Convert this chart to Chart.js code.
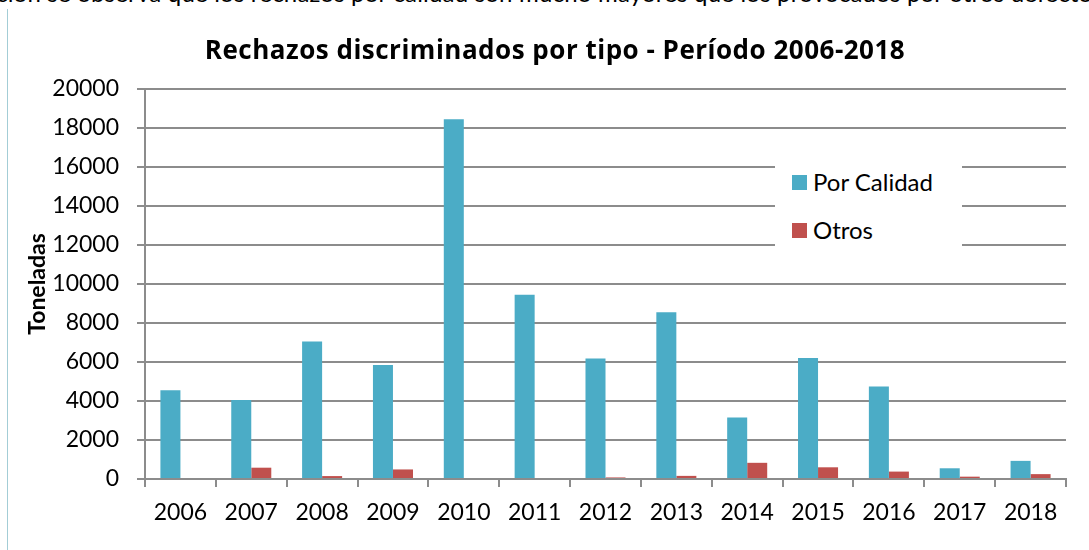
<!DOCTYPE html>
<html>
<head>
<meta charset="utf-8">
<script src="https://cdn.jsdelivr.net/npm/chart.js@4"></script>
<style>
  html, body { margin: 0; padding: 0; background: #fff; }
  #wrap { position: relative; width: 1089px; height: 550px; overflow: hidden; background: #fff; }
  #cut { position: absolute; left: -4px; top: -21px; font: 24px Lato, sans-serif; color: #000; white-space: nowrap; line-height: 28px; letter-spacing: 0.2px; }
  #edge { position: absolute; left: 7px; top: 9px; width: 1px; height: 541px; background: #a3cdd6; }
  #title { position: absolute; left: 0; width: 1110px; top: 31px; text-align: center; font: bold 26px "Open Sans", sans-serif; color: #000; letter-spacing: 0.5px; }
  #legend { position: absolute; left: 775px; top: 150px; width: 187px; height: 108px; background: #fff; font: 24px Lato, sans-serif; color: #000; }
  .item { position: absolute; left: 17px; height: 28px; line-height: 28px; white-space: nowrap; }
  .sw { display: inline-block; width: 15px; height: 15px; vertical-align: middle; margin-right: 6px; position: relative; top: -2px; }
  canvas { position: absolute; left: 0; top: 0; }
</style>
</head>
<body>
<div id="wrap">
  <div id="cut">ción se observa que los rechazos por calidad son mucho mayores que los provocados por otros defectos.</div>
  <div id="edge"></div>
  <canvas id="c" width="1089" height="550"></canvas>
  <div id="title">Rechazos discriminados por tipo - Período 2006-2018</div>
  <div id="legend"></div>
</div>
<script>
const categories = ['2006','2007','2008','2009','2010','2011','2012','2013','2014','2015','2016','2017','2018'];
const porCalidad = [4550, 4050, 7050, 5850, 18450, 9450, 6180, 8550, 3150, 6200, 4750, 550, 930];
const otros = [0, 580, 150, 490, 0, 0, 80, 160, 830, 600, 380, 120, 250];
const seriesNames = ['Por Calidad', 'Otros'];
const seriesColors = ['#4BACC6', '#C0504D'];
const yTicks = [0, 2000, 4000, 6000, 8000, 10000, 12000, 14000, 16000, 18000, 20000];
const yTitle = 'Toneladas';

const gridColor = '#8c8c8c';
const chart = new Chart(document.getElementById('c'), {
  type: 'bar',
  data: {
    labels: categories,
    datasets: [
      { label: seriesNames[0], data: porCalidad, backgroundColor: seriesColors[0], borderWidth: 0 },
      { label: seriesNames[1], data: otros, backgroundColor: seriesColors[1], borderWidth: 0 }
    ]
  },
  options: {
    responsive: false,
    animation: false,
    events: [],
    layout: { padding: { left: 0, right: 23, top: 89, bottom: 0 } },
    datasets: { bar: { categoryPercentage: 0.565, barPercentage: 1.0 } },
    plugins: { legend: { display: false }, title: { display: false }, tooltip: { enabled: false } },
    scales: {
      x: {
        offset: true,
        grid: { display: true, drawOnChartArea: false, drawTicks: true, tickLength: 8, color: gridColor, lineWidth: 2, offset: true },
        border: { display: true, color: gridColor, width: 2 },
        ticks: { color: '#000', font: { family: 'Lato', size: 23 }, padding: 12, maxRotation: 0 },
        afterFit(s) { s.height = 71; }
      },
      y: {
        min: 0, max: 20000,
        afterBuildTicks(s) { s.ticks = yTicks.map(v => ({ value: v })); },
        grid: { color: gridColor, lineWidth: 2, drawTicks: true, tickLength: 8 },
        border: { display: true, color: gridColor, width: 2 },
        ticks: { color: '#000', font: { family: 'Lato', size: 23 }, padding: 18, callback: v => String(v) },
        title: { display: true, text: yTitle, color: '#000', font: { family: 'Lato', size: 23, weight: 'bold' }, padding: { top: 24, bottom: 0 } },
        afterFit(s) { s.width = 145; }
      }
    }
  }
});

const legend = document.getElementById('legend');
seriesNames.forEach((n, i) => {
  const d = document.createElement('div');
  d.className = 'item';
  d.style.top = (i === 0 ? 18 : 66) + 'px';
  d.innerHTML = '<span class="sw" style="background:' + seriesColors[i] + '"></span>' + n;
  legend.appendChild(d);
});
</script>
</body>
</html>
